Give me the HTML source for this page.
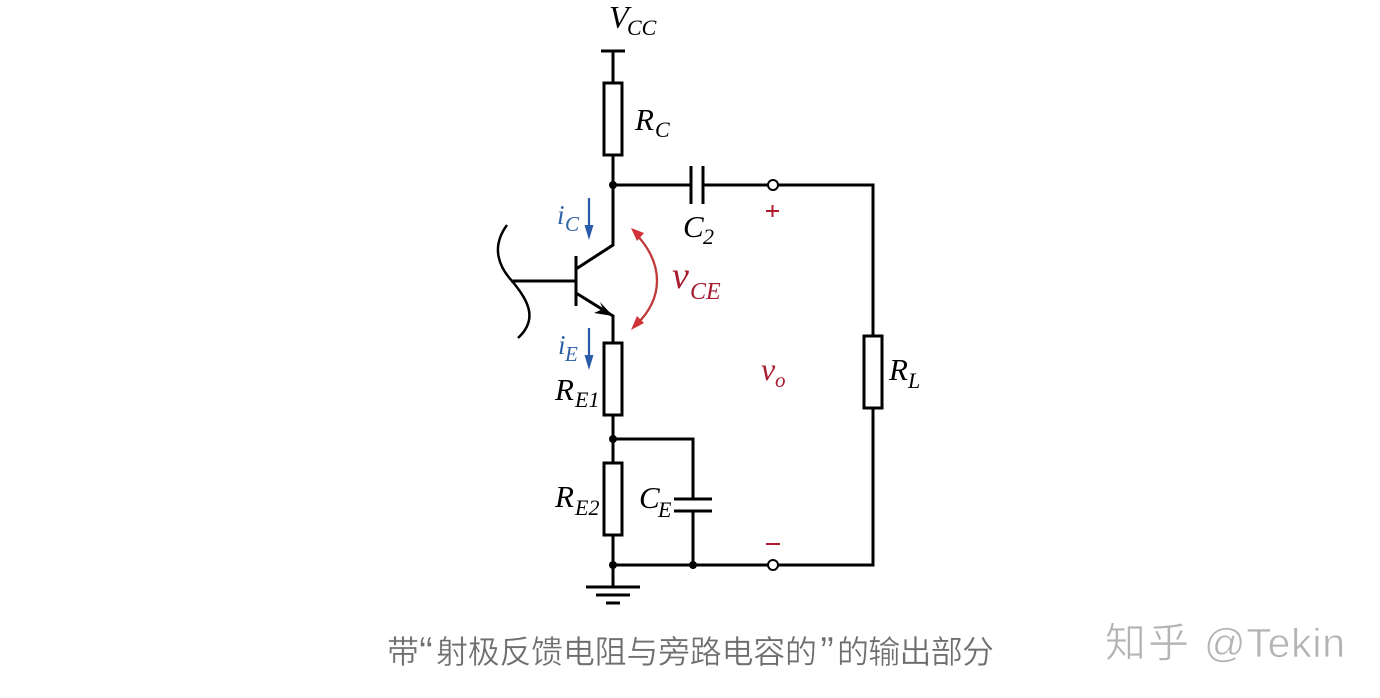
<!DOCTYPE html>
<html><head><meta charset="utf-8"><style>
html,body{margin:0;padding:0;background:#fff;width:1380px;height:698px;overflow:hidden}
svg{display:block}
.s{font-family:"Liberation Serif",serif;font-style:italic}
.c{font-family:"Liberation Sans","Noto Sans CJK SC",sans-serif}
</style></head><body>
<svg width="1380" height="698" viewBox="0 0 1380 698" xmlns="http://www.w3.org/2000/svg">
<g fill="none" stroke="#000" stroke-width="3">
<path d="M601 51H625M613 51V83M613 155V245L576 269M576 256V306M511 281H576M576 293L613 316V343M613 415V463M613 535V587M613 185H691M703 185H873V336M873 408V565H613M613 439H693V499M693 511V565"/>
<path d="M691 166V204M703 166V204M674 499H712M674 511H712M586 587H640M596 595H630M606 603H620"/>
<rect x="604" y="83" width="18" height="72" fill="#fff"/>
<rect x="604" y="343" width="18" height="72" fill="#fff"/>
<rect x="604" y="463" width="18" height="72" fill="#fff"/>
<rect x="864" y="336" width="18" height="72" fill="#fff"/>
<path d="M507 225C490 248 500 268 512 281C526 298 540 318 518 338" stroke-width="2.5"/>
</g>
<path d="M613 316L600 302L603 309L594 313Z" fill="#000"/>
<g fill="#000"><circle cx="613" cy="185" r="4"/><circle cx="613" cy="439" r="4"/><circle cx="613" cy="565" r="4"/><circle cx="693" cy="565" r="4"/></g>
<g fill="#fff" stroke="#000" stroke-width="2"><circle cx="773" cy="185" r="5"/><circle cx="773" cy="565" r="5"/></g>
<path d="M636 234C664 264 664 298 636 325" fill="none" stroke="#c0393b" stroke-width="2.3"/>
<path d="M631 228L644 233L637 241Z M631 330L644 323L637 316Z" fill="#d0343a"/>
<path d="M589 198V230M589 328V360" stroke="#2a5caa" stroke-width="2.2"/>
<path d="M584.5 225H593.5L589 240Z M584.5 355H593.5L589 370Z" fill="#2a5caa"/>
<path d="M766 211H779M772.5 205V217M766 544H780" stroke="#b01c2e" stroke-width="2" fill="none"/>
<g class="s" fill="#000">
<text x="609" y="28" font-size="32">V</text><text x="627" y="35" font-size="22">CC</text>
<text x="635" y="130" font-size="31">R</text><text x="655" y="137" font-size="22">C</text>
<text x="683" y="237" font-size="31">C</text><text x="703" y="244" font-size="22">2</text>
<text x="555" y="400" font-size="31">R</text><text x="575" y="407" font-size="22">E1</text>
<text x="555" y="507" font-size="31">R</text><text x="575" y="515" font-size="22">E2</text>
<text x="639" y="508" font-size="31">C</text><text x="658" y="517" font-size="22">E</text>
<text x="889" y="380" font-size="31">R</text><text x="908" y="388" font-size="22">L</text>
</g>
<g class="s" fill="#2f62a8">
<text x="557" y="224" font-size="27">i</text><text x="565" y="231" font-size="21">C</text>
<text x="558" y="354" font-size="27">i</text><text x="565" y="361" font-size="21">E</text>
</g>
<g class="s" fill="#a81c30">
<text x="672" y="288" font-size="38">v</text><text x="690" y="299" font-size="24">CE</text>
<text x="761" y="380" font-size="32">v</text><text x="775" y="387" font-size="21">o</text>
</g>
<g class="c" fill="#6e6e6e" font-size="32" stroke="#fff" stroke-width="0.35">
<text x="387" y="663">带</text>
<text x="419" y="666" font-size="42">“</text>
<text x="436" y="663" textLength="381" lengthAdjust="spacing">射极反馈电阻与旁路电容的</text>
<text x="820" y="666" font-size="42">”</text>
<text x="837" y="663" textLength="157" lengthAdjust="spacing">的输出部分</text>
</g>
<g class="c" fill="#b4b4b4" stroke="#fff" stroke-width="0.7">
<text x="1105" y="657" font-size="41" textLength="84">知乎</text>
<text x="1204" y="657" font-size="41" textLength="141">@Tekin</text>
</g>
</svg>
</body></html>
